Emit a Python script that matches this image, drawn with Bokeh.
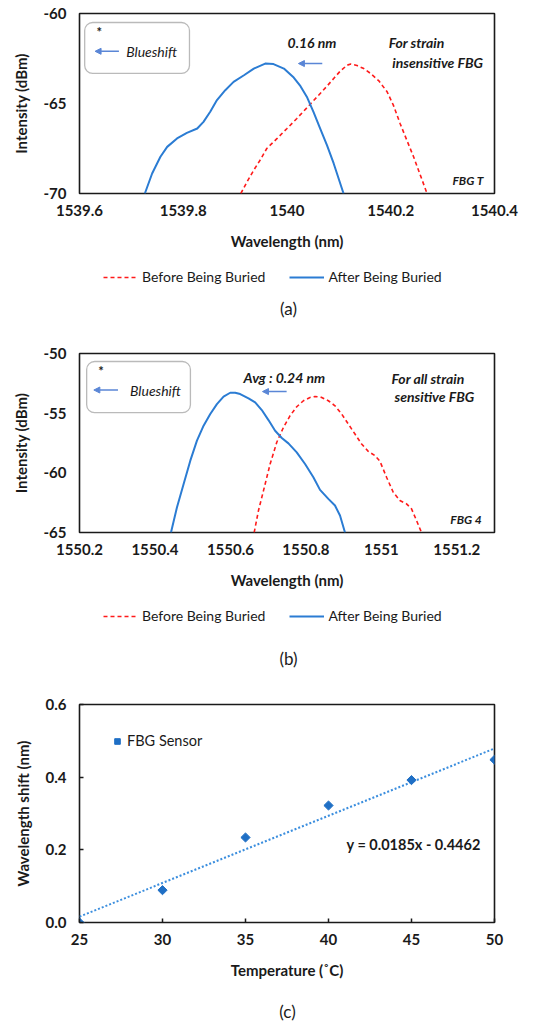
import math

from bokeh.plotting import figure
from bokeh.layouts import column
from bokeh.models import (Range1d, FixedTicker, Legend, LegendItem, Label,
                          Arrow, NormalHead, BoxAnnotation)
from bokeh.embed import file_html
from bokeh.resources import INLINE

FONT = "Lato"
INK = "#1a1a1a"
RED = "#ff1a1a"
BLUE = "#2b7cd3"
ARROW_BLUE = "#5a86d6"
NAN = float("nan")

# ---- (a) FBG T: spectrum before / after burial ----
a_before_wl = [1539.911, 1539.923, 1539.936, 1539.949, 1539.961, 1539.981, 1540.000,
               1540.019, 1540.039, 1540.058, 1540.077, 1540.090, 1540.103, 1540.116,
               1540.123, 1540.135, 1540.148, 1540.161, 1540.177, 1540.193, 1540.205,
               1540.218, 1540.231, 1540.244, 1540.257, 1540.270]
a_before_db = [-70.0, -69.35, -68.70, -68.11, -67.50, -66.94, -66.39,
               -65.83, -65.22, -64.63, -64.04, -63.61, -63.19, -62.87,
               -62.81, -62.89, -63.06, -63.33, -63.74, -64.35, -65.09,
               -66.11, -67.04, -67.96, -68.98, -70.0]
a_after_wl = [1539.726, 1539.740, 1539.756, 1539.769, 1539.788, 1539.807, 1539.827,
              1539.839, 1539.852, 1539.865, 1539.881, 1539.897, 1539.917, 1539.936,
              1539.958, 1539.974, 1539.994, 1540.013, 1540.026, 1540.039, 1540.051,
              1540.064, 1540.077, 1540.090, 1540.109]
a_after_db = [-70.0, -68.89, -67.96, -67.41, -66.94, -66.63, -66.39,
              -66.02, -65.46, -64.81, -64.26, -63.80, -63.43, -63.06,
              -62.78, -62.81, -63.06, -63.56, -64.04, -64.67, -65.46,
              -66.39, -67.31, -68.33, -70.0]
a_xticks = [1539.6, 1539.8, 1540.0, 1540.2, 1540.4]
a_xlabels = ["1539.6", "1539.8", "1540", "1540.2", "1540.4"]
a_yticks = [-70, -65, -60]
a_ylabels = ["-70", "-65", "-60"]

# ---- (b) FBG 4: spectrum before / after burial ----
b_before_wl = [1550.6630, 1550.6744, 1550.6877, 1550.7053, 1550.7229, 1550.7406, 1550.7582,
               1550.7758, 1550.7935, 1550.8111, 1550.8243, 1550.8420, 1550.8596, 1550.8772,
               1550.8949, 1550.9125, 1550.9302, 1550.9478, 1550.9654, 1550.9831, 1550.9963,
               1551.0139, 1551.0316, 1551.0492, 1551.0668, 1551.0801, 1551.0933, 1551.1065]
b_before_db = [-65.0, -63.16, -61.49, -59.26, -57.44, -56.19, -55.21,
               -54.46, -53.96, -53.68, -53.60, -53.68, -53.96, -54.38,
               -55.07, -55.91, -56.75, -57.58, -58.20, -58.56, -59.03,
               -60.37, -61.63, -62.32, -62.60, -63.02, -63.99, -65.0]
b_after_wl = [1550.4425, 1550.4584, 1550.4760, 1550.4937, 1550.5113, 1550.5289, 1550.5466,
              1550.5642, 1550.5818, 1550.5995, 1550.6127, 1550.6259, 1550.6480, 1550.6656,
              1550.6832, 1550.7009, 1550.7185, 1550.7362, 1550.7538, 1550.7758, 1550.7979,
              1550.8199, 1550.8376, 1550.8596, 1550.8772, 1550.8905, 1550.9037]
b_after_db = [-65.0, -62.88, -60.93, -58.98, -57.30, -56.05, -55.07,
              -54.24, -53.62, -53.29, -53.29, -53.40, -53.76, -54.10,
              -54.74, -55.58, -56.47, -57.08, -57.53, -58.28, -59.26,
              -60.37, -61.43, -62.18, -62.74, -63.58, -65.0]
b_xticks = [1550.2, 1550.4, 1550.6, 1550.8, 1551.0, 1551.2]
b_xlabels = ["1550.2", "1550.4", "1550.6", "1550.8", "1551", "1551.2"]
b_yticks = [-65, -60, -55, -50]
b_ylabels = ["-65", "-60", "-55", "-50"]

# ---- (c) wavelength shift vs temperature ----
temps = [25, 30, 35, 40, 45, 50]
shifts = [0.0, 0.089, 0.234, 0.322, 0.392, 0.448]
fit_slope = 0.0185
fit_intercept = -0.4462
c_xticks = [25, 30, 35, 40, 45, 50]
c_xlabels = ["25", "30", "35", "40", "45", "50"]
c_yticks = [0.0, 0.2, 0.4, 0.6]
c_ylabels = ["0.0", "0.2", "0.4", "0.6"]

series_names = ["Before Being Buried", "After Being Buried"]

# the column lines up every plot frame on these page columns
FRAME_LEFT, FRAME_RIGHT = 79, 494


def make_fig(height, xr, yr, top, bottom, xlabel, ylabel,
             xticks, xlabels, yticks, ylabels, tick_in=0):
    p = figure(width=540, height=height, x_range=Range1d(*xr), y_range=Range1d(*yr),
               output_backend="svg", toolbar_location=None,
               min_border_top=top, min_border_bottom=bottom,
               min_border_left=FRAME_LEFT, min_border_right=540 - FRAME_RIGHT)
    p.outline_line_color = INK
    p.outline_line_width = 1.6
    p.outline_line_alpha = 1.0
    p.xgrid.visible = False
    p.ygrid.visible = False
    p.xaxis.ticker = FixedTicker(ticks=xticks)
    p.xaxis.major_label_overrides = {t: s for t, s in zip(xticks, xlabels)}
    p.yaxis.ticker = FixedTicker(ticks=yticks)
    p.yaxis.major_label_overrides = {t: s for t, s in zip(yticks, ylabels)}
    p.xaxis.axis_label = xlabel
    p.yaxis.axis_label = ylabel
    for ax in (p.xaxis[0], p.yaxis[0]):
        ax.axis_line_color = None
        ax.minor_tick_line_color = None
        ax.major_tick_out = 0
        ax.major_tick_in = tick_in
        ax.major_tick_line_color = INK if tick_in else None
        ax.major_tick_line_width = 1.5
        ax.major_label_text_font = FONT
        ax.major_label_text_font_size = "15px"
        ax.major_label_text_font_style = "bold"
        ax.major_label_text_color = INK
        ax.axis_label_text_font = FONT
        ax.axis_label_text_font_size = "15px"
        ax.axis_label_text_font_style = "bold"
        ax.axis_label_text_color = INK
    p.xaxis.major_label_standoff = 11
    p.xaxis.axis_label_standoff = 13
    p.yaxis.major_label_standoff = 13
    p.yaxis.axis_label_standoff = 11
    return p


def note(p, x, y, text, size="14px", style="bold italic", align="left"):
    p.add_layout(Label(x=x, y=y, text=text, text_font=FONT, text_font_size=size,
                       text_font_style=style, text_color=INK, text_align=align,
                       text_baseline="middle"))


def shift_arrow(p, x0, x1, y):
    p.add_layout(Arrow(x_start=x0, y_start=y, x_end=x1, y_end=y,
                       line_color=ARROW_BLUE, line_width=1.6,
                       end=NormalHead(size=6, line_color=ARROW_BLUE,
                                      fill_color=ARROW_BLUE, line_width=1)))


def key_box(p, left, right, top, bottom, star_xy, arrow_x, arrow_y, text_x):
    p.add_layout(BoxAnnotation(left=left, right=right, top=top, bottom=bottom,
                               fill_color=None, line_color=INK, line_width=1.3,
                               border_radius=8))
    note(p, star_xy[0], star_xy[1], "*", size="13px", style="bold")
    shift_arrow(p, arrow_x[0], arrow_x[1], arrow_y)
    note(p, text_x, arrow_y, "Blueshift", size="14px", style="italic")


def strip(height):
    """A bare strip; its x range is given in page pixels, y from its bottom."""
    s = figure(width=540, height=height, x_range=Range1d(FRAME_LEFT, FRAME_RIGHT),
               y_range=Range1d(0, height), output_backend="svg",
               toolbar_location=None, x_axis_type=None, y_axis_type=None,
               min_border=0)
    s.outline_line_color = None
    s.xgrid.visible = False
    s.ygrid.visible = False
    return s


def legend_strip(height, legend_y, caption_text, caption_y):
    s = strip(height)
    # key samples only: the series themselves live in the panel above
    r_before = s.line([NAN], [NAN], line_color=RED, line_width=1.6, line_dash="4 3")
    r_after = s.line([NAN], [NAN], line_color=BLUE, line_width=2.0)
    s.add_layout(Legend(items=[LegendItem(label=series_names[0], renderers=[r_before]),
                               LegendItem(label=series_names[1], renderers=[r_after])],
                        orientation="horizontal", location=(103 - FRAME_LEFT, legend_y),
                        glyph_width=35, glyph_height=14, label_height=14,
                        label_width=10, label_standoff=4, spacing=24,
                        padding=0, margin=0,
                        label_text_font=FONT, label_text_font_size="14px",
                        label_text_color=INK, border_line_color=None,
                        background_fill_alpha=0))
    s.add_layout(Label(x=288, y=caption_y, text=caption_text, text_font=FONT,
                       text_font_size="17px", text_color=INK, text_align="center",
                       text_baseline="middle"))
    return s


# ---------- panel (a) ----------
pa = make_fig(262, (1539.6, 1540.4), (-70, -60), 13, 69,
              "Wavelength (nm)", "Intensity (dBm)",
              a_xticks, a_xlabels, a_yticks, a_ylabels)
pa.line(a_before_wl, a_before_db, line_color=RED, line_width=1.6, line_dash="4 3")
pa.line(a_after_wl, a_after_db, line_color=BLUE, line_width=2.0, line_join="round")
key_box(pa, 1539.610, 1539.812, -60.5, -63.33, (1539.633, -61.05),
        (1539.676, 1539.630), -62.1, 1539.690)
shift_arrow(pa, 1540.068, 1540.022, -62.78)
note(pa, 1540.001, -61.61, "0.16 nm")
note(pa, 1540.196, -61.61, "For strain")
note(pa, 1540.203, -62.72, "insensitive FBG")
note(pa, 1540.319, -69.28, "FBG T", size="12px")
la = legend_strip(68, 45, "(a)", 22)

# ---------- panel (b) ----------
pb = make_fig(270, (1550.2, 1551.3), (-65, -50), 23, 68,
              "Wavelength (nm)", "Intensity (dBm)",
              b_xticks, b_xlabels, b_yticks, b_ylabels)
pb.line(b_before_wl, b_before_db, line_color=RED, line_width=1.6, line_dash="4 3")
pb.line(b_after_wl, b_after_db, line_color=BLUE, line_width=2.0, line_join="round")
key_box(pb, 1550.219, 1550.494, -50.67, -54.96, (1550.250, -51.5),
        (1550.302, 1550.238), -53.06, 1550.334)
shift_arrow(pb, 1550.749, 1550.685, -53.19)
note(pb, 1550.635, -52.0, "Avg : 0.24 nm")
note(pb, 1551.027, -52.12, "For all strain")
note(pb, 1551.035, -53.62, "sensitive FBG")
note(pb, 1551.183, -63.88, "FBG 4", size="12px")
lb = legend_strip(80, 56, "(b)", 22)

# ---------- panel (c) ----------
pc = make_fig(315, (25, 50), (0, 0.6), 24, 73,
              "Temperature (\u02daC)", "Wavelength shift (nm)",
              c_xticks, c_xlabels, c_yticks, c_ylabels, tick_in=4)
fit_x = [temps[0], temps[-1]]
fit_y = [fit_slope * t + fit_intercept for t in fit_x]
pc.line(fit_x, fit_y, line_color="#3b8ede", line_width=2.0, line_dash="2 2")
rc = pc.scatter(temps, shifts, marker="square", size=6.5, angle=math.pi / 4,
                fill_color="#1f6fc5", line_color="#1f6fc5")
pc.add_layout(Legend(items=[LegendItem(label="FBG Sensor", renderers=[rc])],
                     location=(31, 173), glyph_width=14, glyph_height=16,
                     label_height=16, label_standoff=3, padding=4, margin=0,
                     label_text_font=FONT, label_text_font_size="14.5px",
                     label_text_color=INK, border_line_color=None,
                     background_fill_alpha=0))
note(pc, 41.09, 0.2145, "y = 0.0185x - 0.4462", size="14.5px", style="bold")
lc = strip(26)
lc.add_layout(Label(x=287, y=10, text="(c)", text_font=FONT, text_font_size="17px",
                    text_color=INK, text_align="center", text_baseline="middle"))

page = column(pa, la, pb, lb, pc, lc, spacing=0)
open("out.html", "w").write(file_html(page, INLINE))
